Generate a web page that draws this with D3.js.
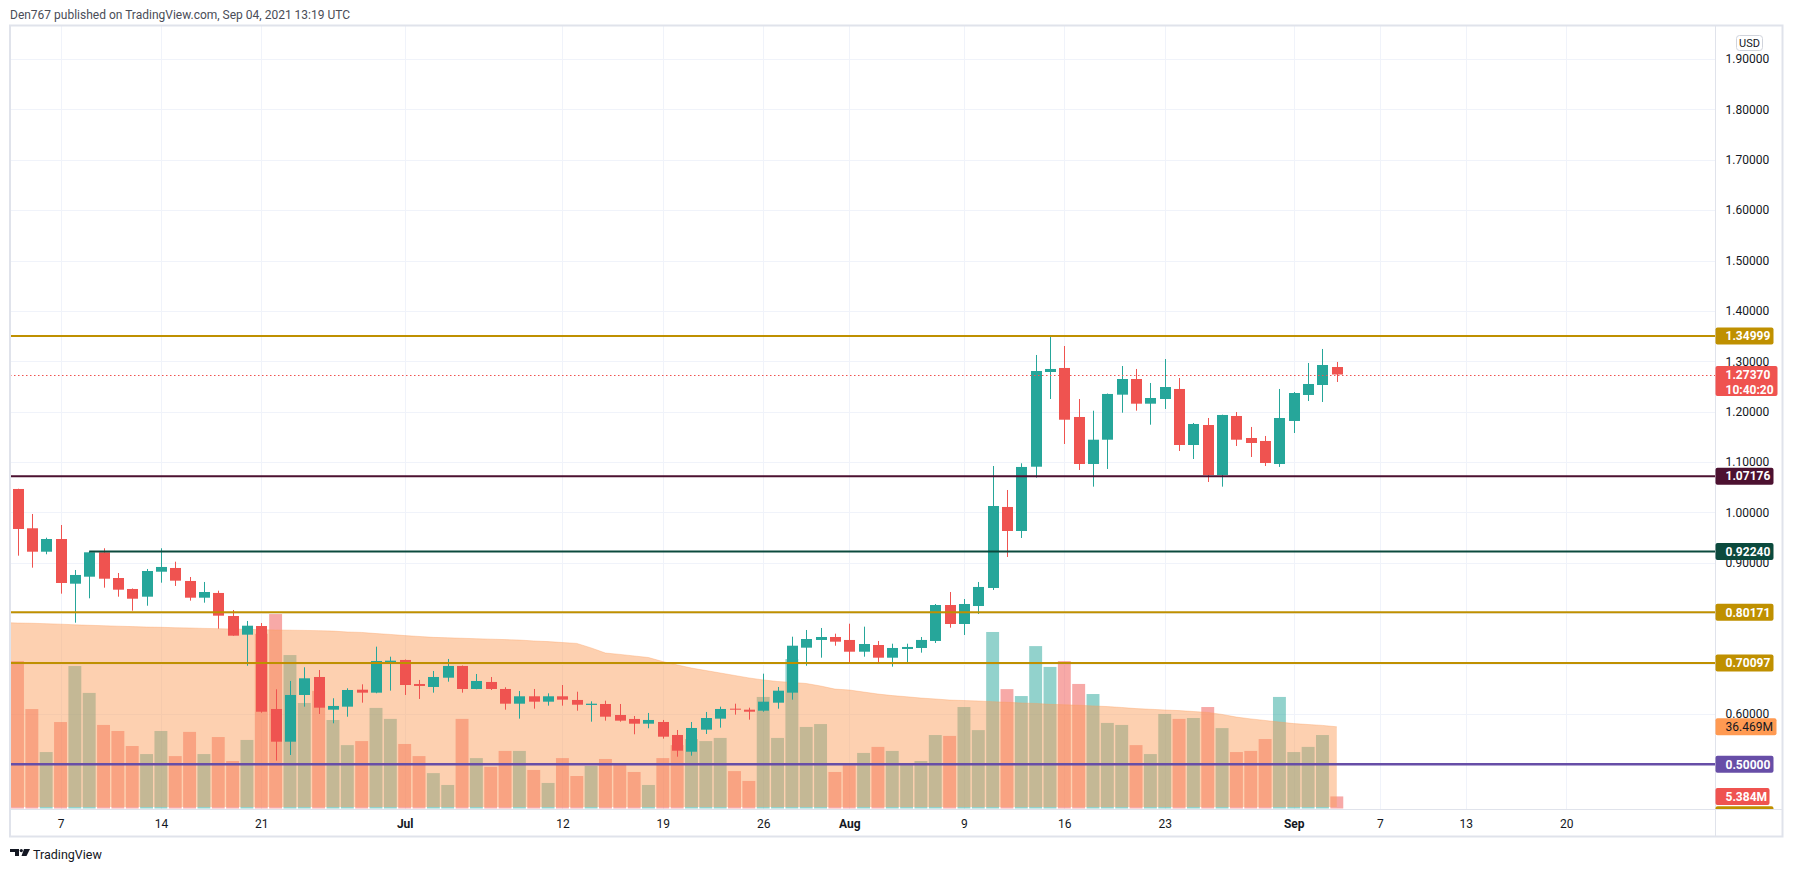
<!DOCTYPE html>
<html>
<head>
<meta charset="utf-8">
<script src="https://cdn.jsdelivr.net/npm/d3@7"></script>
<style>
  html, body { margin: 0; padding: 0; background: #fff; }
  #vis svg { display: block; }
</style>
</head>
<body>
<div id="vis"></div>
<script>
const W = 1793;
const H = 872;
const plot = { left: 10, right: 1715, top: 26, bottom: 809 };
const font = 'Roboto, "Trebuchet MS", sans-serif';

// daily candles, Jun 4 .. Sep 4 2021
const days = d3.utcDay.range(new Date(Date.UTC(2021, 5, 4)), new Date(Date.UTC(2021, 8, 5)));

const opens = [1.0465,0.9685,0.9220,0.9472,0.8585,0.8724,0.9208,0.8698,0.8480,0.8327,
  0.8823,0.8897,0.8639,0.8307,0.8401,0.7944,0.7573,0.7745,0.6098,0.5449,
  0.6376,0.6733,0.6084,0.6144,0.6481,0.6422,0.7031,0.7071,0.6594,0.6535,
  0.6719,0.6952,0.6495,0.6634,0.6495,0.6203,0.6350,0.6243,0.6350,0.6277,
  0.6178,0.6197,0.5979,0.5900,0.5806,0.5840,0.5582,0.5250,0.5687,0.5906,
  0.6104,0.6084,0.6064,0.6223,0.6422,0.7315,0.7468,0.7527,0.7468,0.7235,
  0.7368,0.7116,0.7289,0.7309,0.7448,0.8162,0.7785,0.8142,0.8500,1.0108,
  0.9631,1.0907,1.2787,1.2867,1.1894,1.0961,1.1443,1.2337,1.2648,1.2158,
  1.2251,1.2450,1.1338,1.1735,1.0743,1.1914,1.1477,1.1418,1.0961,1.1815,
  1.2331,1.2529,1.2886];
const highs = [1.0470,0.9969,0.9498,0.9750,0.8857,0.9224,0.9288,0.8797,0.8490,0.8877,
  0.9288,0.9022,0.8718,0.8619,0.8446,0.8063,0.7845,0.7805,0.6489,0.6654,
  0.6926,0.6872,0.6311,0.6509,0.6588,0.7335,0.7136,0.7080,0.6674,0.6852,
  0.7091,0.6960,0.6793,0.6733,0.6529,0.6455,0.6495,0.6409,0.6574,0.6441,
  0.6250,0.6263,0.6197,0.5959,0.6019,0.5880,0.5681,0.5840,0.6039,0.6144,
  0.6203,0.6124,0.6799,0.6535,0.7533,0.7666,0.7706,0.7593,0.7791,0.7732,
  0.7448,0.7394,0.7394,0.7527,0.8182,0.8420,0.8281,0.8619,1.0921,1.0445,
  1.0975,1.3125,1.3488,1.3303,1.2251,1.2019,1.2360,1.2906,1.2847,1.2569,
  1.3045,1.2668,1.1775,1.1874,1.1940,1.1993,1.1696,1.1517,1.2450,1.2390,
  1.2966,1.3244,1.2986];
const lows = [0.9141,0.8903,0.9169,0.8387,0.7811,0.8295,0.8506,0.8327,0.8049,0.8148,
  0.8605,0.8540,0.8248,0.8208,0.7692,0.7550,0.6957,0.6024,0.5072,0.5185,
  0.6144,0.5999,0.5814,0.5945,0.6223,0.6410,0.6462,0.6376,0.6297,0.6422,
  0.6640,0.6422,0.6490,0.6475,0.6084,0.5906,0.6104,0.6164,0.6164,0.6064,
  0.5846,0.5866,0.5846,0.5596,0.5715,0.5509,0.5151,0.5171,0.5602,0.5727,
  0.5985,0.5886,0.6044,0.6104,0.6283,0.6957,0.7116,0.7354,0.7031,0.7136,
  0.7031,0.6938,0.7031,0.7216,0.7408,0.7712,0.7567,0.7984,0.8460,0.9115,
  0.9492,1.0689,1.2251,1.1358,1.0842,1.0511,1.0862,1.1979,1.2019,1.1741,
  1.2053,1.1219,1.1060,1.0604,1.0511,1.1318,1.1100,1.0921,1.0902,1.1576,
  1.2211,1.2192,1.2589];
const closes = [0.9671,0.9220,0.9472,0.8599,0.8758,0.9208,0.8684,0.8466,0.8287,0.8837,
  0.8917,0.8645,0.8307,0.8420,0.7950,0.7553,0.7751,0.6044,0.5449,0.6376,
  0.6707,0.6124,0.6158,0.6475,0.6422,0.7051,0.7057,0.6574,0.6555,0.6733,
  0.6952,0.6495,0.6654,0.6495,0.6203,0.6350,0.6243,0.6350,0.6283,0.6183,
  0.6203,0.5945,0.5866,0.5806,0.5880,0.5548,0.5270,0.5721,0.5919,0.6098,
  0.6084,0.6044,0.6243,0.6461,0.7354,0.7487,0.7527,0.7434,0.7235,0.7388,
  0.7116,0.7309,0.7329,0.7468,0.8162,0.7785,0.8182,0.8520,1.0127,0.9631,
  1.0902,1.2807,1.2847,1.1840,1.0961,1.1443,1.2351,1.2648,1.2158,1.2271,
  1.2489,1.1338,1.1755,1.0743,1.1934,1.1443,1.1378,1.0981,1.1874,1.2370,
  1.2549,1.2926,1.2737];
// volume in millions
const volumes = [65.8,44.4,25.2,38.6,63.6,51.6,37.3,34.6,27.9,24.3,
  34.6,23.4,34.2,24.3,31.9,21.2,30.6,78.0,86.8,68.5,
  47.1,52.5,39.5,28.3,30.1,44.9,40.0,28.8,23.4,15.8,
  10.5,40.0,22.5,18.6,25.7,25.7,17.2,11.4,22.5,14.5,
  19.0,22.1,20.3,16.3,10.5,22.5,28.3,31.0,30.1,31.5,
  16.7,12.3,49.8,31.5,66.7,36.4,37.7,16.3,19.3,24.8,
  27.5,25.7,19.4,21.2,32.8,32.4,45.3,35.0,78.8,53.3,
  50.2,72.5,63.2,65.8,55.6,51.1,38.2,37.3,28.3,24.3,
  42.2,40.0,40.4,45.3,35.9,25.2,25.7,31.0,49.8,25.2,
  27.5,32.8,5.384];
// volume moving average, Jun 3 .. Sep 4
const maDays = d3.utcDay.range(new Date(Date.UTC(2021, 5, 3)), new Date(Date.UTC(2021, 8, 5)));
const volumeMA = [83.0,
  82.8,82.7,82.5,82.3,82.0,81.8,81.6,81.4,81.2,81.0,
  80.9,80.7,80.6,80.4,80.3,80.1,80.0,79.8,79.7,79.6,
  79.5,79.4,79.2,78.8,78.6,78.1,77.7,77.2,76.8,76.4,
  76.2,76.0,75.8,75.6,75.4,75.2,74.8,74.5,74.1,73.7,
  71.7,69.4,68.8,68.1,67.4,65.6,64.1,62.7,61.6,60.5,
  59.4,58.3,57.4,56.7,56.3,55.8,54.7,53.3,52.9,52.0,
  51.1,50.4,49.9,49.3,48.9,48.4,48.2,48.0,47.7,47.4,
  47.1,46.9,46.5,46.3,46.1,45.8,45.5,45.1,44.6,44.3,
  44.0,43.7,43.3,42.9,42.0,40.8,40.0,39.3,38.6,37.9,
  37.5,37.1,36.469];

const levels = [1.34999, 1.07176, 0.9224, 0.80171, 0.70097, 0.5, 0.4];
const levelColors = ["#bf9000", "#4c1130", "#0b4a3d", "#bf9000", "#bf9000", "#674ea7", "#bf9000"];
const levelStarts = [null, null, new Date(Date.UTC(2021, 5, 9)), null, null, null, null];

const priceTicks = [0.5, 0.6, 0.7, 0.8, 0.9, 1.0, 1.1, 1.2, 1.3, 1.4, 1.5, 1.6, 1.7, 1.8, 1.9];
const tickDates = ["2021-06-07","2021-06-14","2021-06-21","2021-07-01","2021-07-12","2021-07-19",
  "2021-07-26","2021-08-01","2021-08-09","2021-08-16","2021-08-23","2021-09-01","2021-09-07",
  "2021-09-13","2021-09-20"].map((s) => new Date(s + "T00:00:00Z"));
const tickLabels = ["7","14","21","Jul","12","19","26","Aug","9","16","23","Sep","7","13","20"];
const monthLabels = ["Jul", "Aug", "Sep"];

const lastPrice = 1.2737;
const countdown = "10:40:20";

const up = "#26a69a";
const down = "#ef5350";

const candles = days.map((d, i) => ({
  date: d, open: opens[i], high: highs[i], low: lows[i], close: closes[i], volume: volumes[i],
}));
const ma = maDays.map((d, i) => ({ date: d, v: volumeMA[i] }));

const svg = d3.select("#vis").append("svg")
  .attr("width", W).attr("height", H)
  .style("font-family", font);

svg.append("rect").attr("width", W).attr("height", H).attr("fill", "#fff");

const x = d3.scaleUtc().domain([days[0], days[days.length - 1]]).range([17.5, 1336.8]);
const y = d3.scaleLinear().domain([0.5, 1.9]).range([764.3, 59]);
const yVol = d3.scaleLinear().domain([0, 100]).range([808.5, 584.5]);
const step = x(days[1]) - x(days[0]);

svg.append("defs").append("clipPath").attr("id", "plotClip")
  .append("rect").attr("x", plot.left).attr("y", plot.top)
  .attr("width", plot.right - plot.left).attr("height", plot.bottom - plot.top);
svg.select("defs").append("clipPath").attr("id", "axisClip")
  .append("rect").attr("x", plot.right).attr("y", plot.top)
  .attr("width", 70).attr("height", plot.bottom - plot.top);

// header
svg.append("text").attr("x", 10).attr("y", 18.5)
  .attr("font-size", 12).attr("fill", "#4a4d57")
  .text("Den767 published on TradingView.com, Sep 04, 2021 13:19 UTC");

const chart = svg.append("g").attr("clip-path", "url(#plotClip)");

// grid
chart.selectAll(".hgrid").data(priceTicks).join("line")
  .attr("x1", plot.left).attr("x2", plot.right)
  .attr("y1", (d) => Math.round(y(d)) + 0.5).attr("y2", (d) => Math.round(y(d)) + 0.5)
  .attr("stroke", "#f0f3fa");
chart.selectAll(".vgrid").data(tickDates).join("line")
  .attr("y1", plot.top).attr("y2", plot.bottom)
  .attr("x1", (d) => Math.round(x(d)) + 0.5).attr("x2", (d) => Math.round(x(d)) + 0.5)
  .attr("stroke", "#f0f3fa");

// volume
const vw = step * 0.9;
chart.selectAll(".vol").data(candles).join("rect")
  .attr("x", (d) => x(d.date) - vw / 2)
  .attr("width", vw)
  .attr("y", (d) => yVol(d.volume))
  .attr("height", (d) => yVol(0) - yVol(d.volume))
  .attr("fill", (d) => (d.close >= d.open ? up : down))
  .attr("fill-opacity", 0.5);

const area = d3.area()
  .x((d) => x(d.date))
  .y0(yVol(0) - 1.5)
  .y1((d) => yVol(d.v));
chart.append("path").datum(ma).attr("d", area)
  .attr("fill", "rgb(251,156,89)").attr("fill-opacity", 0.48);
chart.append("path").datum(ma)
  .attr("d", d3.line().x((d) => x(d.date)).y((d) => yVol(d.v)))
  .attr("fill", "none").attr("stroke", "rgb(251,156,89)").attr("stroke-opacity", 0.35);

// candles
const bw = Math.round(step * 0.77);
const cg = chart.selectAll(".candle").data(candles).join("g");
cg.append("line")
  .attr("x1", (d) => Math.round(x(d.date)) + 0.5).attr("x2", (d) => Math.round(x(d.date)) + 0.5)
  .attr("y1", (d) => y(d.high)).attr("y2", (d) => y(d.low))
  .attr("stroke", (d) => (d.close >= d.open ? up : down));
cg.append("rect")
  .attr("x", (d) => Math.round(x(d.date)) + 0.5 - bw / 2)
  .attr("width", bw)
  .attr("y", (d) => y(Math.max(d.open, d.close)))
  .attr("height", (d) => Math.max(1, Math.abs(y(d.open) - y(d.close))))
  .attr("fill", (d) => (d.close >= d.open ? up : down));

// horizontal levels
chart.selectAll(".level").data(levels).join("line")
  .attr("x1", (d, i) => (levelStarts[i] ? x(levelStarts[i]) : plot.left))
  .attr("x2", plot.right)
  .attr("y1", (d) => y(d)).attr("y2", (d) => y(d))
  .attr("stroke", (d, i) => levelColors[i])
  .attr("stroke-width", (d) => (d === 0.5 ? 2.5 : 2));

// last price line
chart.append("line")
  .attr("x1", plot.left).attr("x2", plot.right)
  .attr("y1", Math.round(y(lastPrice)) + 0.5).attr("y2", Math.round(y(lastPrice)) + 0.5)
  .attr("stroke", down).attr("stroke-dasharray", "1.5,2.5");

// frame
svg.append("rect").attr("x", 10).attr("y", 25.5).attr("width", 1772.5).attr("height", 811)
  .attr("fill", "none").attr("stroke", "#e0e3eb").attr("stroke-width", 2);
svg.append("line").attr("x1", plot.right + 0.5).attr("x2", plot.right + 0.5)
  .attr("y1", 25).attr("y2", 837).attr("stroke", "#e0e3eb");
svg.append("line").attr("x1", 10).attr("x2", 1783)
  .attr("y1", plot.bottom + 0.5).attr("y2", plot.bottom + 0.5).attr("stroke", "#e0e3eb");

// price axis
const yAxis = svg.append("g")
  .attr("transform", `translate(${plot.right},0)`)
  .call(d3.axisRight(y).tickValues(priceTicks).tickFormat(d3.format(".5f")).tickSize(0).tickPadding(10.5));
yAxis.select(".domain").remove();
yAxis.selectAll("text")
  .attr("font-family", font).attr("font-size", 12).attr("fill", "#131722");

// time axis
const xAxis = svg.append("g")
  .attr("transform", `translate(0,${plot.bottom})`)
  .call(d3.axisBottom(x).tickValues(tickDates).tickFormat((d, i) => tickLabels[i]).tickSize(0).tickPadding(10));
xAxis.select(".domain").remove();
xAxis.selectAll("text")
  .attr("font-family", font).attr("font-size", 12).attr("fill", "#131722")
  .attr("font-weight", (d, i) => (monthLabels.includes(tickLabels[i]) ? 700 : 400));

// USD badge
svg.append("rect").attr("x", 1736.5).attr("y", 35.5).attr("width", 26).attr("height", 15).attr("rx", 3)
  .attr("fill", "#fff").attr("stroke", "#d1d4dc");
svg.append("text").attr("x", 1749.5).attr("y", 43).attr("dy", "0.35em")
  .attr("text-anchor", "middle").attr("font-size", 11).attr("fill", "#131722").text("USD");

// price tags
const tags = svg.append("g").attr("clip-path", "url(#axisClip)");
const tag = (yc, h, w, fill, lines, color, weight) => {
  tags.append("rect").attr("x", plot.right + 0.5).attr("y", yc - h / 2)
    .attr("width", w).attr("height", h).attr("rx", 2).attr("fill", fill);
  lines.forEach((t, k) => {
    tags.append("text").attr("x", plot.right + 10.5).attr("y", yc - h / 2 + 8.5 + k * 15)
      .attr("dy", "0.35em").attr("font-size", 12).attr("font-weight", weight)
      .attr("fill", color).text(t);
  });
};
levels.forEach((v, i) => tag(y(v), 17, 58, levelColors[i], [d3.format(".5f")(v)], "#fff", 700));
tag(y(lastPrice) + 6.5, 30, 62, down, [d3.format(".5f")(lastPrice), countdown], "#fff", 700);
tag(yVol(volumeMA[volumeMA.length - 1]), 17, 61, "#ff9a52",
  [d3.format(".3f")(volumeMA[volumeMA.length - 1]) + "M"], "#131722", 400);
tag(yVol(volumes[volumes.length - 1]), 17, 54, down,
  [d3.format(".3f")(volumes[volumes.length - 1]) + "M"], "#fff", 700);

// logo
const logo = svg.append("g").attr("fill", "#131722");
logo.append("path").attr("d", "M10,849 H19 V856 H15 V852 H10 Z");
logo.append("circle").attr("cx", 21.3).attr("cy", 850.6).attr("r", 1.6);
logo.append("path").attr("d", "M24,849 H30 L26.5,856 H21.5 Z");
svg.append("text").attr("x", 33).attr("y", 859).attr("font-size", 12.5).attr("fill", "#131722")
  .text("TradingView");
</script>
</body>
</html>
